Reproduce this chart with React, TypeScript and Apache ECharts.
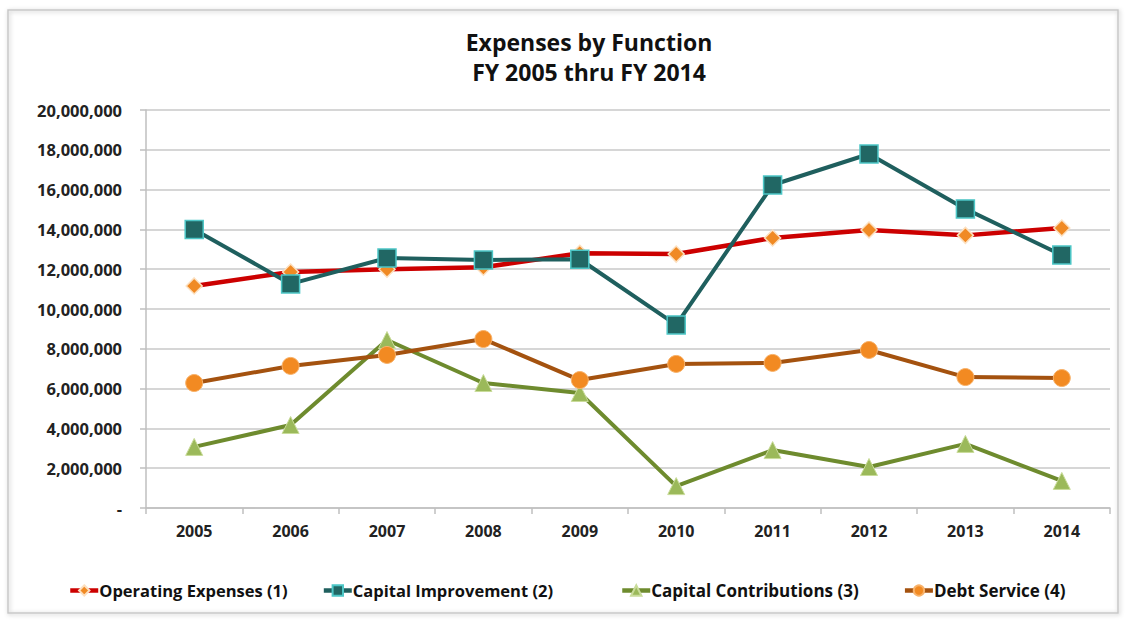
import React, { useEffect, useRef } from "react";
import * as echarts from "echarts";

const years = ["2005", "2006", "2007", "2008", "2009", "2010", "2011", "2012", "2013", "2014"];
const operatingExpenses = [11160000, 11860000, 12000000, 12100000, 12800000, 12760000, 13570000, 13970000, 13700000, 14070000];
const capitalImprovement = [14000000, 11260000, 12560000, 12460000, 12500000, 9200000, 16230000, 17790000, 15030000, 12710000];
const capitalContributions = [3070000, 4170000, 8440000, 6280000, 5780000, 1100000, 2910000, 2060000, 3220000, 1360000];
const debtService = [6280000, 7140000, 7690000, 8490000, 6430000, 7240000, 7290000, 7940000, 6580000, 6530000];
const seriesNames = ["Operating Expenses (1)", "Capital Improvement (2)", "Capital Contributions (3)", "Debt Service (4)"];
const titleLines = ["Expenses by Function", "FY 2005 thru FY 2014"];

const FONT = "'Open Sans', Lato, sans-serif";

export default function App() {
  const ref = useRef<HTMLDivElement>(null);
  useEffect(() => {
    if (!ref.current) return;
    const chart = echarts.init(ref.current, undefined, { renderer: "svg" });
    const legendLine = (c: string) => ({ lineStyle: { color: c, width: 4.5 } });
    const legendBase = {
      bottom: 16,
      itemWidth: 28,
      itemHeight: 13,
      itemGap: 34,
      textStyle: { fontFamily: FONT, fontWeight: "bold", fontSize: 16.5, color: "#111", padding: [0, 0, 0, -4] },
    };
    chart.setOption({
      animation: false,
      backgroundColor: "#ffffff",
      title: {
        text: titleLines.join("\n"),
        left: 584,
        textAlign: "center",
        top: 22,
        textStyle: { fontFamily: FONT, fontWeight: "bold", fontSize: 23, lineHeight: 30, color: "#111" },
      },
      graphic: [
        {
          type: "rect",
          shape: { x: 8, y: 10, width: 1110, height: 603 },
          style: { fill: "none", stroke: "#C8C8C8", lineWidth: 1.5, shadowBlur: 4, shadowColor: "rgba(0,0,0,0.25)", shadowOffsetX: 1, shadowOffsetY: 1 },
          silent: true,
          z: -10,
        },
      ],
      legend: [
        {
          ...legendBase,
          left: 63,
          data: [
            { name: seriesNames[0], ...legendLine("#CC0000") },
            { name: seriesNames[1], ...legendLine("#1F5F5E") },
          ],
        },
        {
          ...legendBase,
          left: 615,
          itemGap: 44,
          textStyle: { ...legendBase.textStyle, fontSize: 17 },
          data: [
            { name: seriesNames[2], ...legendLine("#6E8B2E") },
            { name: seriesNames[3], ...legendLine("#A4520F") },
          ],
        },
      ],
      grid: { left: 146, right: 19, top: 110, bottom: 112, containLabel: false },
      xAxis: {
        type: "category",
        data: years,
        boundaryGap: true,
        axisLine: { lineStyle: { color: "#BFBFBF", width: 1.5 } },
        axisTick: { show: true, length: 6, lineStyle: { color: "#BFBFBF", width: 1.5 } },
        axisLabel: { fontFamily: FONT, fontWeight: "bold", fontSize: 16, color: "#222", margin: 15 },
      },
      yAxis: {
        type: "value",
        min: 0,
        max: 20000000,
        interval: 2000000,
        axisLine: { show: true, lineStyle: { color: "#BFBFBF", width: 1.5 } },
        axisTick: { show: true, length: 6, lineStyle: { color: "#BFBFBF", width: 1.5 } },
        splitLine: { lineStyle: { color: "#C8C8C8", width: 1.5 } },
        axisLabel: {
          fontFamily: FONT,
          fontWeight: "bold",
          fontSize: 16.5,
          color: "#222",
          margin: 24,
          formatter: (v: number) => (v === 0 ? "-" : v.toLocaleString("en-US")),
        },
      },
      series: [
        {
          name: seriesNames[0],
          type: "line",
          data: operatingExpenses,
          symbol: "diamond",
          symbolSize: 16,
          lineStyle: { color: "#CC0000", width: 4.5 },
          itemStyle: { color: "#F08A24", borderColor: "#FCE0C0", borderWidth: 1.5 },
          z: 2,
        },
        {
          name: seriesNames[1],
          type: "line",
          data: capitalImprovement,
          symbol: "rect",
          symbolSize: 18,
          lineStyle: { color: "#1F5F5E", width: 4 },
          itemStyle: { color: "#216764", borderColor: "#4CC6C6", borderWidth: 1.5 },
          z: 3,
        },
        {
          name: seriesNames[2],
          type: "line",
          data: capitalContributions,
          symbol: "triangle",
          symbolSize: 17,
          lineStyle: { color: "#6E8B2E", width: 4 },
          itemStyle: { color: "#9BB95A", borderColor: "#C9DC9A", borderWidth: 1 },
          z: 2,
        },
        {
          name: seriesNames[3],
          type: "line",
          data: debtService,
          symbol: "circle",
          symbolSize: 17,
          lineStyle: { color: "#A4520F", width: 4 },
          itemStyle: { color: "#F28A22", borderColor: "#F8B26A", borderWidth: 1 },
          z: 2,
        },
      ],
    });
    return () => chart.dispose();
  }, []);
  return (
    <div
      ref={ref}
      style={{ position: "fixed", left: 0, top: 0, width: 1129, height: 620 }}
    />
  );
}
